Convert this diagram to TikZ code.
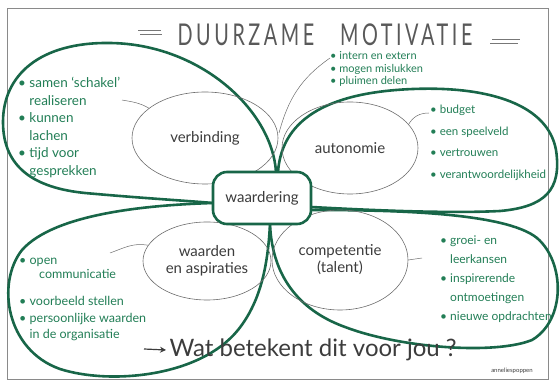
\documentclass[tikz,border=0pt]{standalone}
\usepackage{fontspec}
\setmainfont{Lato}
\usepackage{graphicx}
\usetikzlibrary{arrows.meta,shapes.geometric,positioning}
\definecolor{petal}{RGB}{24,102,72}
\definecolor{ink}{RGB}{60,60,60}
\definecolor{pen}{RGB}{34,126,86}
\tikzset{>={Stealth[width=6pt,length=6pt]}}

\begin{document}
\begin{tikzpicture}[x=1pt,y=-1pt,
  petalline/.style={draw=petal, line width=2.6pt, line cap=round, line join=round},
  core/.style={ellipse, draw=ink!75, line width=0.6pt, text=ink, font=\fontsize{15}{17}\selectfont, align=center, inner sep=0pt},
  list/.style={text=pen, align=left, anchor=north west, inner sep=0pt, font=\fontsize{12}{17.5}\selectfont},
  leader/.style={draw=ink!75, line width=0.5pt}]

  \useasboundingbox (0,0) rectangle (560,387);
  \draw[ink!60, line width=0.6pt] (7,8) rectangle (548,379);

  % the four petals
  \draw[petalline] (276,172) .. controls (272,110) and (200,44) .. (110,43) .. controls (40,42) and (3,75) .. (3,122)
    .. controls (3,168) and (35,188) .. (85,193) .. controls (140,198) and (190,201) .. (213,203);
  \draw[petalline] (278,172) .. controls (282,115) and (335,92) .. (413,89) .. controls (490,86) and (548,105) .. (556,150)
    .. controls (562,190) and (545,207) .. (500,211) .. controls (440,214) and (350,209) .. (311,207);
  \draw[petalline] (311,210) .. controls (390,210) and (505,212) .. (537,238) .. controls (565,262) and (566,320) .. (532,340)
    .. controls (495,355) and (400,348) .. (345,327) .. controls (298,310) and (272,275) .. (270,224);
  \draw[petalline] (213,203) .. controls (150,205) and (55,213) .. (22,250) .. controls (-4,283) and (6,350) .. (60,369)
    .. controls (110,385) and (200,377) .. (238,330) .. controls (262,300) and (268,262) .. (270,224);

  \node[core, minimum width=146pt, minimum height=92pt] (verbinding) at (205,138) {verbinding};
  \node[core, minimum width=136pt, minimum height=92pt] (autonomie) at (350,148) {autonomie};
  \node[core, minimum width=128pt, minimum height=78pt] (waarden) at (207,261) {waarden\\en aspiraties};
  \node[core, minimum width=136pt, minimum height=100pt] (competentie) at (340,260) {competentie\\(talent)};

  \node[draw=petal, line width=2.6pt, rounded corners=14pt, fill=white, minimum width=98pt, minimum height=52pt,
    text=ink, font=\fontsize{15}{17}\selectfont] (waardering) at (262,198) {waardering};

  \node[text=ink!85, inner sep=0pt, font=\fontsize{30}{32}\selectfont] (title) at (325,35)
    {\scalebox{0.66}[1]{\addfontfeatures{LetterSpace=18}DUURZAME\hspace{1.3em}MOTIVATIE}};
  \draw[ink!70, line width=0.6pt] (138,30) -- (161,30) (140,34) -- (162,34);
  \draw[ink!70, line width=0.6pt] (492,39) -- (520,39) (490,43) -- (518,43);

  \node[list, font=\fontsize{13.5}{17.5}\selectfont] (tllist) at (18,77) {• samen ‘schakel’\\\phantom{• }realiseren\\• kunnen\\\phantom{• }lachen\\• tijd voor\\\phantom{• }gesprekken};
  \node[list, font=\fontsize{11}{12.8}\selectfont] (toplist) at (330,51) {• intern en extern\\• mogen mislukken\\• pluimen delen};
  \node[list, font=\fontsize{11.5}{21.5}\selectfont] (rlist) at (430,105) {• budget\\• een speelveld\\• vertrouwen\\• verantwoordelijkheid};
  \node[list, font=\fontsize{12}{19}\selectfont] (brlist) at (440,236) {• groei- en\\\phantom{• }leerkansen\\• inspirerende\\\phantom{• }ontmoetingen\\• nieuwe opdrachten};
  \node[list, font=\fontsize{12.5}{16.5}\selectfont] (bllist) at (19,258) {• open\\[-3pt]\hspace{1.6em}communicatie\\[11pt]• voorbeeld stellen\\• persoonlijke waarden\\\phantom{• }in de organisatie};

  \coordinate (tlend) at (122,100);
  \coordinate (topend) at (330,58);
  \coordinate (stem) at (279,133);
  \coordinate (rend) at (429,113);
  \coordinate (brend) at (422,258);
  \coordinate (blend) at (110,253);
  \draw[leader] (verbinding.152) to[out=150,in=-10] (tlend);
  \draw[leader] (topend) to[out=215,in=75] (stem);
  \draw[leader] (autonomie.22) to[out=60,in=180] (rend);
  \draw[leader] (competentie.east) -- (brend);
  \draw[leader] (waarden.165) to[out=170,in=20] (blend);

  \node[text=ink, font=\fontsize{24}{26}\selectfont, anchor=west] (question) at (166,350) {Wat betekent dit voor jou ?};
  \coordinate (qtail) at (144,349);
  \draw[ink, line width=1.2pt, ->] (qtail) -- (question.west);

  \node[text=ink, font=\fontsize{6}{7}\selectfont] (signature) at (512,371) {anneliespoppen};
\end{tikzpicture}
\end{document}
